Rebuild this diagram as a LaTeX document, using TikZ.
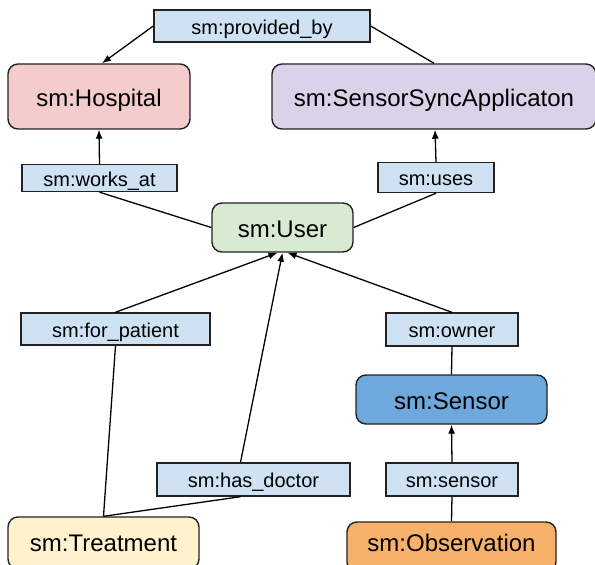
\documentclass[tikz,border=0pt]{standalone}
\usepackage{fontspec}
\setmainfont{Liberation Sans}
\usetikzlibrary{arrows.meta}

\definecolor{edgegray}{HTML}{222222}
\definecolor{labelblue}{HTML}{CFE2F3}
\definecolor{hospfill}{HTML}{F4CCCC}
\definecolor{appfill}{HTML}{D9D2E9}
\definecolor{userfill}{HTML}{D9EAD3}
\definecolor{sensorfill}{HTML}{6FA8DC}
\definecolor{treatfill}{HTML}{FFF2CC}
\definecolor{obsfill}{HTML}{F6B26B}

\tikzset{
  classbox/.style={draw=edgegray, line width=1.4pt, rounded corners=10pt,
    inner sep=0pt, text height=20pt, text depth=0pt,
    font=\fontsize{24}{28}\selectfont},
  propbox/.style={draw=edgegray, line width=1.4pt, fill=labelblue,
    inner sep=0pt, text height=16.4pt, text depth=0pt,
    font=\fontsize{20}{24}\selectfont},
  link/.style={draw=black, line width=1.3pt},
  arrowlink/.style={link, -{Latex[length=9pt,width=7pt]}},
}

\begin{document}
\begin{tikzpicture}[x=1pt, y=-1pt]
  \useasboundingbox (0,0) rectangle (595,565);
  \clip (0,0) rectangle (595,565);

  % classes
  \node[classbox, fill=hospfill, minimum width=182pt, minimum height=65pt]
    (hosp) at (99,96.5) {sm:Hospital};
  \node[classbox, fill=appfill, minimum width=324pt, minimum height=65pt]
    (app) at (434,96.5) {sm:SensorSyncApplicaton};
  \node[classbox, fill=userfill, minimum width=141pt, minimum height=49pt]
    (user) at (282.5,227.5) {sm:User};
  \node[classbox, fill=sensorfill, minimum width=191pt, minimum height=49pt]
    (sensor) at (451.5,399.5) {sm:Sensor};
  % the two bottom boxes run past the lower edge of the page
  \node[classbox, fill=treatfill, minimum width=191pt, minimum height=52pt,
    text depth=2.8pt] (treat) at (103.5,543) {sm:Treatment};
  \node[classbox, fill=obsfill, minimum width=209pt, minimum height=50pt,
    text depth=10.8pt] (obs) at (451.5,547) {sm:Observation};

  % property labels
  \node[propbox, minimum width=216pt, minimum height=32pt]
    (pb) at (262,26) {sm:provided\_by};
  \node[propbox, minimum width=155pt, minimum height=27pt]
    (wa) at (99.5,178) {sm:works\_at};
  \node[propbox, minimum width=116pt, minimum height=30pt]
    (uses) at (436,177.5) {sm:uses};
  \node[propbox, minimum width=189pt, minimum height=32pt]
    (fp) at (115.5,329) {sm:for\_patient};
  \node[propbox, minimum width=132pt, minimum height=33pt]
    (owner) at (452,329.5) {sm:owner};
  \node[propbox, minimum width=193pt, minimum height=33pt]
    (hd) at (253.5,479.5) {sm:has\_doctor};
  \node[propbox, minimum width=132pt, minimum height=33pt]
    (sens) at (452,479.5) {sm:sensor};

  % connectors
  \draw[arrowlink] (pb.west) -- ([xshift=3pt]hosp.north);
  \draw[link] (pb.east) -- (app.north);

  \draw[arrowlink] (wa.north) -- (hosp.south);
  \draw[link] (wa.south) -- (user.west);

  \draw[arrowlink] (uses.north) -- ([xshift=1pt]app.south);
  \draw[link] (uses.south) -- (user.east);

  \draw[arrowlink] (fp.north) -- ([xshift=-5pt]user.south);
  \draw[link] (fp.south) -- (treat.north);

  \draw[link] (treat.north) -- ([xshift=-13pt]hd.south);
  \draw[arrowlink] ([xshift=-13pt]hd.north) -- (user.south);

  \draw[arrowlink] (owner.north) -- ([xshift=5pt]user.south);
  \draw[link] (owner.south) -- (sensor.north);

  \draw[arrowlink] (sens.north) -- (sensor.south);
  \draw[link] (sens.south) -- (obs.north);
\end{tikzpicture}
\end{document}
